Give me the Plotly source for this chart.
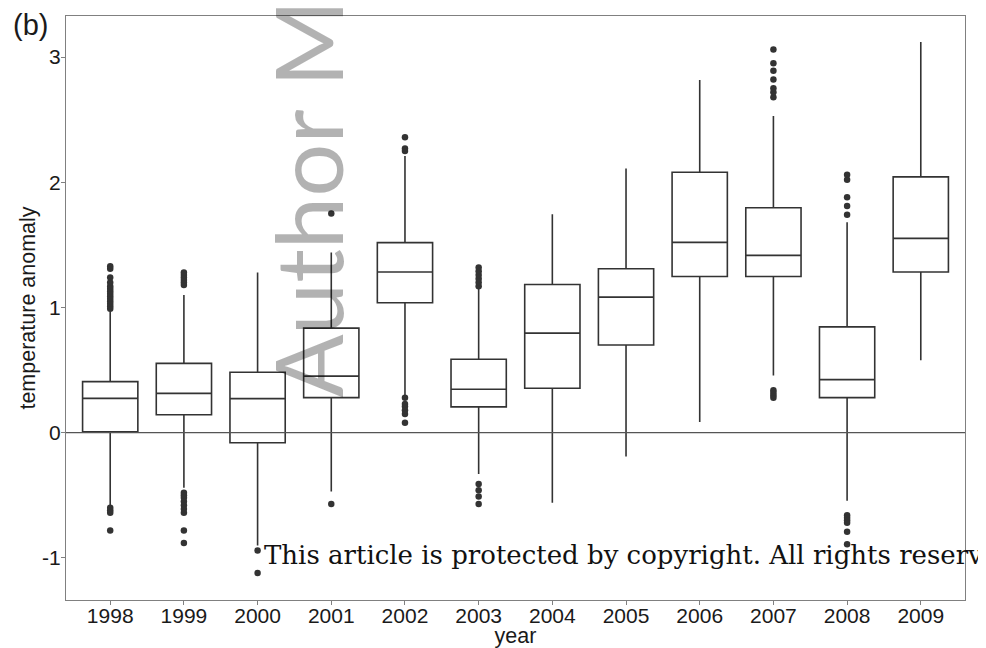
import plotly.graph_objects as go

years = ["1998", "1999", "2000", "2001", "2002", "2003", "2004", "2005", "2006", "2007", "2008", "2009"]
q1 = [0.008, 0.144, -0.08, 0.28, 1.038, 0.206, 0.355, 0.70, 1.248, 1.248, 0.28, 1.283]
median = [0.274, 0.314, 0.272, 0.452, 1.283, 0.347, 0.795, 1.083, 1.52, 1.416, 0.424, 1.552]
q3 = [0.408, 0.554, 0.483, 0.835, 1.518, 0.587, 1.184, 1.31, 2.08, 1.797, 0.845, 2.043]
lower_fence = [-0.58, -0.44, -0.90, -0.47, 0.30, -0.33, -0.56, -0.19, 0.085, 0.456, -0.544, 0.579]
upper_fence = [0.97, 1.10, 1.28, 1.44, 2.21, 1.16, 1.744, 2.11, 2.816, 2.53, 1.68, 3.12]

outlier_years = (["1998"] * 18 + ["1999"] * 15 + ["2000"] * 2 + ["2001"] * 2 + ["2002"] * 9
                 + ["2003"] * 10 + ["2007"] * 11 + ["2008"] * 11)
outlier_values = [
    # 1998
    0.99, 1.01, 1.03, 1.05, 1.07, 1.09, 1.11, 1.13, 1.15, 1.17, 1.20, 1.24, 1.31, 1.33,
    -0.60, -0.62, -0.64, -0.78,
    # 1999
    1.18, 1.20, 1.22, 1.24, 1.26, 1.28,
    -0.48, -0.50, -0.52, -0.55, -0.58, -0.61, -0.64, -0.78, -0.88,
    # 2000
    -0.94, -1.12,
    # 2001
    1.75, -0.57,
    # 2002
    2.25, 2.27, 2.36,
    0.08, 0.15, 0.18, 0.21, 0.23, 0.28,
    # 2003
    1.17, 1.20, 1.23, 1.26, 1.29, 1.32,
    -0.41, -0.46, -0.51, -0.57,
    # 2007
    2.68, 2.72, 2.75, 2.82, 2.89, 2.95, 3.06,
    0.28, 0.30, 0.32, 0.34,
    # 2008
    1.74, 1.81, 1.88, 2.02, 2.06,
    -0.66, -0.68, -0.70, -0.72, -0.79, -0.89,
]

y_tickvals = [-1, 0, 1, 2, 3]
y_ticktext = ["-1", "0", "1", "2", "3"]

dark = "#333333"
frame = "#808080"

fig = go.Figure()
fig.add_trace(go.Box(
    x=years, q1=q1, median=median, q3=q3,
    lowerfence=lower_fence, upperfence=upper_fence,
    boxpoints=False, width=0.75, whiskerwidth=0,
    fillcolor="white", line=dict(color=dark, width=1.6),
    showlegend=False, hoverinfo="skip",
))
fig.add_trace(go.Scatter(
    x=outlier_years, y=outlier_values, mode="markers",
    marker=dict(color=dark, size=6.5, line=dict(width=0)),
    showlegend=False, hoverinfo="skip", cliponaxis=False,
))

fig.add_shape(type="line", xref="paper", x0=0, x1=1, yref="y", y0=0, y1=0,
              line=dict(color="#555555", width=1.2), layer="above")

tick_font = dict(family="Liberation Sans, Arial, sans-serif", size=21, color="#1a1a1a")
title_font = dict(family="Liberation Sans, Arial, sans-serif", size=21.5, color="#1a1a1a")

fig.update_layout(
    width=978, height=640,
    margin=dict(l=58, r=21, t=8, b=48, autoexpand=False),
    paper_bgcolor="white", plot_bgcolor="white",
    xaxis=dict(
        type="category", categoryorder="array", categoryarray=years,
        range=[-0.6, 11.6], automargin=False,
        showline=True, mirror=True, linecolor=frame, linewidth=1.3,
        ticks="outside", ticklen=4, tickcolor=frame, tickwidth=1,
        ticklabelstandoff=-7,
        tickfont=tick_font, showgrid=False, zeroline=False,
        title=dict(text="year", font=title_font, standoff=0),
    ),
    yaxis=dict(
        range=[-1.336, 3.328], tickvals=y_tickvals, ticktext=y_ticktext,
        automargin=False,
        showline=True, mirror=True, linecolor=frame, linewidth=1.3,
        ticks="outside", ticklen=4, tickcolor=frame, tickwidth=1,
        ticklabelstandoff=-4,
        tickfont=tick_font, showgrid=False, zeroline=False,
        title=dict(text="temperature anomaly", font=title_font, standoff=0),
    ),
    annotations=[
        dict(text="(b)", xref="paper", yref="paper", x=-0.04, y=0.985,
             xanchor="center", yanchor="middle", showarrow=False,
             font=dict(family="Liberation Sans, Arial, sans-serif", size=29, color="#1a1a1a")),
        dict(text="Author M", xref="paper", yref="paper", x=0.268, y=0.687,
             xanchor="center", yanchor="middle", textangle=-90, showarrow=False,
             font=dict(family="Lato, sans-serif", size=94, color="rgba(0,0,0,0.30)", weight=400)),
        dict(text="This article is protected by copyright. All rights reserved.",
             xref="paper", yref="paper", x=(262 - 66) / 899, y=0.077,
             xanchor="left", yanchor="middle", showarrow=False,
             font=dict(family="DejaVu Serif, serif", size=26, color="#111111")),
    ],
)

fig.write_html("out.html")
